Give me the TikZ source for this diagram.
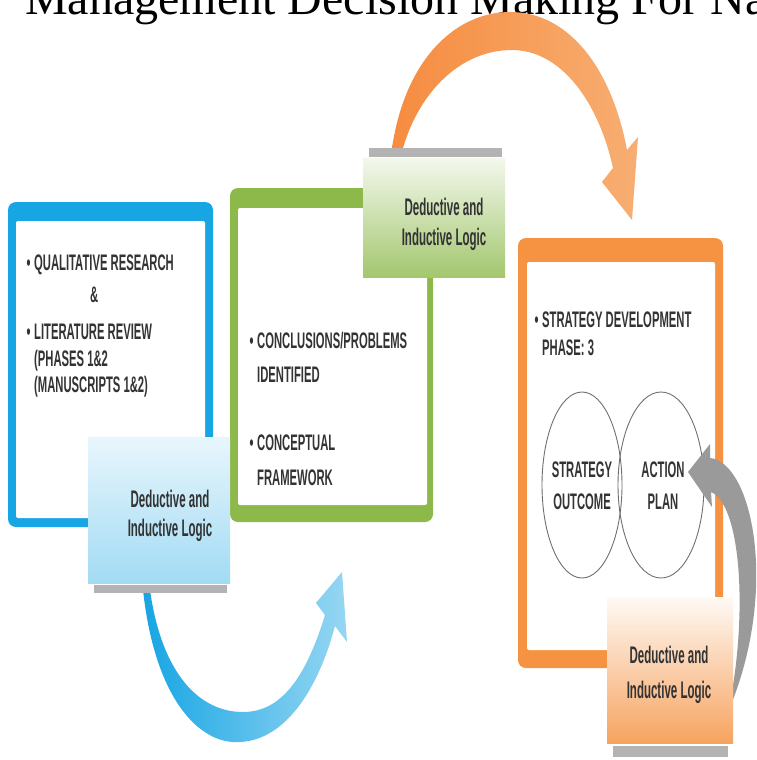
\documentclass[tikz,border=0pt]{standalone}
\usepackage{fontspec}
\setmainfont{Liberation Sans}
\newfontfamily\titlefont{Liberation Serif}
\newfontfamily\bodyfont[FakeStretch=0.5]{Liberation Sans}
\newfontfamily\logicfont[FakeStretch=0.48]{Liberation Sans}
\definecolor{bluec}{HTML}{17A5E3}
\definecolor{greenc}{HTML}{8CB94A}
\definecolor{orangec}{HTML}{F59343}
\definecolor{bargray}{HTML}{B3B3B3}
\definecolor{arrowgray}{HTML}{9A9A9A}
\definecolor{textgray}{HTML}{333333}
\definecolor{ellc}{HTML}{707070}
\tikzset{
  txt/.style={anchor=base west, inner sep=0pt, text=textgray, font=\bodyfont\bfseries\fontsize{22.5}{26}\selectfont},
  lgc/.style={anchor=base, inner sep=0pt, text=textgray, font=\logicfont\bfseries\fontsize{24}{28}\selectfont},
  bar/.style={fill=bargray}
}
\begin{document}
\begin{tikzpicture}[x=1pt,y=-1pt]
\useasboundingbox (0,0) rectangle (756,760);
\clip (0,0) rectangle (756,760);
\fill[white] (0,0) rectangle (756,760);
% title (cut off at the top edge, as in the reference)
\node[anchor=base west, inner sep=0pt, font=\titlefont\fontsize{48}{52}\selectfont] (title) at (25,15) {Management Decision Making For Na};

% blue crescent arrow
\path[left color=bluec, right color=bluec!45] (143,590) .. controls (155,700) and (200,745) .. (240,742)
  .. controls (285,740) and (318,690) .. (335,626) -- (347,642) -- (342,572) -- (316,603) -- (325,615)
  .. controls (305,680) and (280,712) .. (243,712) .. controls (200,712) and (162,675) .. (150,590) -- cycle;

% orange arc arrow
\path[left color=orangec!95!red, right color=orangec!75] (392,148) .. controls (405,60) and (455,12) .. (510,12)
  .. controls (570,12) and (612,70) .. (627,150) -- (638,137) -- (632,220) -- (602,182) -- (613,168)
  .. controls (598,100) and (560,50) .. (512,50) .. controls (462,50) and (420,90) .. (403,148) -- cycle;

% blue box
\fill[bluec, rounded corners=8pt] (8,202) rectangle (213,527);
\fill[white, rounded corners=2pt] (16,221) rectangle (205,518);
% green box
\fill[greenc, rounded corners=8pt] (230,188) rectangle (433,522);
\fill[white, rounded corners=2pt] (238,208) rectangle (427,505);
% orange box
\fill[orangec, rounded corners=8pt] (518,238) rectangle (723,668);
\fill[white, rounded corners=2pt] (527,262) rectangle (715,650);

% blue box text
\node[txt] (q1) at (34,270) {\llap{\textbullet\,}QUALITATIVE RESEARCH};
\node[txt] (amp) at (90,302) {\&};
\node[txt] (q2) at (34,339) {\llap{\textbullet\,}LITERATURE REVIEW};
\node[txt] (q3) at (34,366) {(PHASES 1\&2};
\node[txt] (q4) at (34,392) {(MANUSCRIPTS 1\&2)};
% green box text
\node[txt] (c1) at (257,348) {\llap{\textbullet\,}CONCLUSIONS/PROBLEMS};
\node[txt] (c2) at (257,382) {IDENTIFIED};
\node[txt] (c3) at (257,450) {\llap{\textbullet\,}CONCEPTUAL};
\node[txt] (c4) at (257,485) {FRAMEWORK};
% orange box text
\node[txt] (s1) at (542,327) {\llap{\textbullet\,}STRATEGY DEVELOPMENT};
\node[txt] (s2) at (542,355) {PHASE: 3};

% ellipses
\draw[ellc, line width=0.9pt] (582,485) ellipse [x radius=40pt, y radius=93pt];
\draw[ellc, line width=0.9pt] (661,485) ellipse [x radius=43pt, y radius=93pt];
\node[txt, anchor=base] (e1) at (582,477) {STRATEGY};
\node[txt, anchor=base] (e2) at (582,509) {OUTCOME};
\node[txt, anchor=base] (e3) at (663,477) {ACTION};
\node[txt, anchor=base] (e4) at (663,509) {PLAN};

% gray arrow
\fill[arrowgray] (710,458) .. controls (752,462) and (780,590) .. (728,712)
  .. controls (748,620) and (742,505) .. (711,492) -- (712,507) -- (688,472) -- (710,444) -- cycle;

% blue logic box
\path[top color=bluec!10, bottom color=bluec!40] (88,437) rectangle (230,583);
\fill[bar] (94,585) rectangle (227,593);
\node[lgc] (bl1) at (170,507) {Deductive and};
\node[lgc] (bl2) at (170,536) {Inductive Logic};
% green logic box
\path[top color=greenc!10, bottom color=greenc!80] (363,158) rectangle (505,277);
\fill[bar] (369,148) rectangle (502,157);
\node[lgc] (gl1) at (444,215) {Deductive and};
\node[lgc] (gl2) at (444,245) {Inductive Logic};
% orange logic box
\path[top color=orangec!5, bottom color=orangec!85] (607,597) rectangle (733,743);
\fill[bar] (613,746) rectangle (728,757);
\node[lgc] (ol1) at (669,663) {Deductive and};
\node[lgc] (ol2) at (669,698) {Inductive Logic};
\end{tikzpicture}
\end{document}
